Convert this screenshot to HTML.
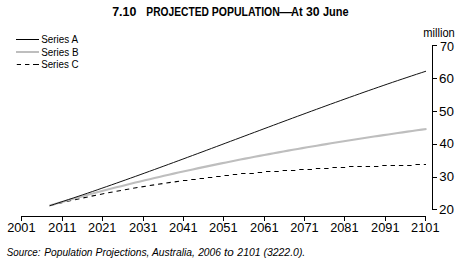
<!DOCTYPE html>
<html><head><meta charset="utf-8"><style>
html,body{margin:0;padding:0;background:#fff;width:465px;height:264px;overflow:hidden}
svg{display:block}
text{font-family:"Liberation Sans",sans-serif;fill:#000}
</style></head><body>
<svg width="465" height="264" viewBox="0 0 465 264">
<rect width="465" height="264" fill="#fff"/>
<text id="t0" x="112.20" y="15.80" font-size="12.5" font-weight="bold" textLength="24.16" lengthAdjust="spacingAndGlyphs">7.10</text>
<text id="t1" x="146.35" y="15.80" font-size="12.5" font-weight="bold" textLength="62.50" lengthAdjust="spacingAndGlyphs">PROJECTED</text>
<text id="t2" x="211.75" y="15.80" font-size="12.5" font-weight="bold" textLength="68.06" lengthAdjust="spacingAndGlyphs">POPULATION</text>
<text id="t3" x="279.30" y="15.80" font-size="12.5" font-weight="bold" textLength="12.85" lengthAdjust="spacingAndGlyphs">—</text>
<text id="t4" x="290.95" y="15.80" font-size="12.5" font-weight="bold" textLength="11.64" lengthAdjust="spacingAndGlyphs">At</text>
<text id="t5" x="306.05" y="15.80" font-size="12.5" font-weight="bold" textLength="13.63" lengthAdjust="spacingAndGlyphs">30</text>
<text id="t6" x="322.90" y="15.80" font-size="12.5" font-weight="bold" textLength="25.64" lengthAdjust="spacingAndGlyphs">June</text>
<text id="la" x="41.15" y="42.80" font-size="10" textLength="36.84" lengthAdjust="spacingAndGlyphs">Series A</text>
<text id="lb" x="41.15" y="55.50" font-size="10" textLength="37.35" lengthAdjust="spacingAndGlyphs">Series B</text>
<text id="lc" x="41.15" y="68.00" font-size="10" textLength="37.55" lengthAdjust="spacingAndGlyphs">Series C</text>
<text id="mil" x="423.30" y="36.90" font-size="12" textLength="31.47" lengthAdjust="spacingAndGlyphs">million</text>
<text id="s0" x="6.75" y="256.00" font-size="10.3" font-style="italic" textLength="33.79" lengthAdjust="spacingAndGlyphs">Source:</text>
<text id="s1" x="44.25" y="256.00" font-size="10.3" font-style="italic" textLength="48.25" lengthAdjust="spacingAndGlyphs">Population</text>
<text id="s2" x="95.60" y="256.00" font-size="10.3" font-style="italic" textLength="53.82" lengthAdjust="spacingAndGlyphs">Projections,</text>
<text id="s3" x="152.00" y="256.00" font-size="10.3" font-style="italic" textLength="42.94" lengthAdjust="spacingAndGlyphs">Australia,</text>
<text id="s4" x="198.15" y="256.00" font-size="10.3" font-style="italic" textLength="22.86" lengthAdjust="spacingAndGlyphs">2006</text>
<text id="s5" x="224.00" y="256.00" font-size="10.3" font-style="italic" textLength="9.73" lengthAdjust="spacingAndGlyphs">to</text>
<text id="s6" x="237.35" y="256.00" font-size="10.3" font-style="italic" textLength="23.16" lengthAdjust="spacingAndGlyphs">2101</text>
<text id="s7" x="263.45" y="256.00" font-size="10.3" font-style="italic" textLength="41.83" lengthAdjust="spacingAndGlyphs">(3222.0).</text>
<text id="x2001" x="7.15" y="231.90" font-size="12" textLength="28.40" lengthAdjust="spacingAndGlyphs">2001</text>
<text id="x2011" x="48.12" y="231.90" font-size="12" textLength="28.40" lengthAdjust="spacingAndGlyphs">2011</text>
<text id="x2021" x="88.09" y="231.90" font-size="12" textLength="28.40" lengthAdjust="spacingAndGlyphs">2021</text>
<text id="x2031" x="129.06" y="231.90" font-size="12" textLength="28.66" lengthAdjust="spacingAndGlyphs">2031</text>
<text id="x2041" x="169.03" y="231.90" font-size="12" textLength="28.66" lengthAdjust="spacingAndGlyphs">2041</text>
<text id="x2051" x="209.00" y="231.90" font-size="12" textLength="28.66" lengthAdjust="spacingAndGlyphs">2051</text>
<text id="x2061" x="249.97" y="231.90" font-size="12" textLength="28.66" lengthAdjust="spacingAndGlyphs">2061</text>
<text id="x2071" x="290.19" y="231.90" font-size="12" textLength="28.40" lengthAdjust="spacingAndGlyphs">2071</text>
<text id="x2081" x="330.16" y="231.90" font-size="12" textLength="28.40" lengthAdjust="spacingAndGlyphs">2081</text>
<text id="x2091" x="371.13" y="231.90" font-size="12" textLength="28.40" lengthAdjust="spacingAndGlyphs">2091</text>
<text id="x2101" x="411.10" y="231.90" font-size="12" textLength="28.40" lengthAdjust="spacingAndGlyphs">2101</text>
<text id="y70" x="440.00" y="51.00" font-size="12.4" textLength="14.00" lengthAdjust="spacingAndGlyphs">70</text>
<text id="y60" x="439.10" y="83.00" font-size="12.4" textLength="14.92" lengthAdjust="spacingAndGlyphs">60</text>
<text id="y50" x="439.10" y="116.00" font-size="12.4" textLength="14.92" lengthAdjust="spacingAndGlyphs">50</text>
<text id="y40" x="439.60" y="147.90" font-size="12.4" textLength="14.39" lengthAdjust="spacingAndGlyphs">40</text>
<text id="y30" x="439.35" y="180.90" font-size="12.4" textLength="14.65" lengthAdjust="spacingAndGlyphs">30</text>
<text id="y20" x="439.10" y="214.00" font-size="12.4" textLength="14.92" lengthAdjust="spacingAndGlyphs">20</text>
<line x1="16" y1="39.5" x2="39" y2="39.5" stroke="#000"/>
<line x1="16" y1="52" x2="39" y2="52" stroke="#bebebe" stroke-width="2"/>
<g stroke="#000"><line x1="16.8" y1="64.5" x2="21" y2="64.5"/><line x1="25" y1="64.5" x2="29.4" y2="64.5"/><line x1="33" y1="64.5" x2="39" y2="64.5"/></g>
<g stroke="#000" stroke-width="1" fill="none">
<line x1="432.5" y1="45" x2="432.5" y2="210"/>
<line x1="432" y1="45.50" x2="437" y2="45.50"/><line x1="432" y1="78.50" x2="437" y2="78.50"/><line x1="432" y1="111.50" x2="437" y2="111.50"/><line x1="432" y1="144.50" x2="437" y2="144.50"/><line x1="432" y1="177.50" x2="437" y2="177.50"/><line x1="432" y1="209.50" x2="437" y2="209.50"/>
<line x1="21" y1="216.5" x2="426" y2="216.5"/>
<line x1="21.50" y1="216" x2="21.50" y2="221"/><line x1="62.50" y1="216" x2="62.50" y2="221"/><line x1="102.50" y1="216" x2="102.50" y2="221"/><line x1="143.50" y1="216" x2="143.50" y2="221"/><line x1="183.50" y1="216" x2="183.50" y2="221"/><line x1="223.50" y1="216" x2="223.50" y2="221"/><line x1="264.50" y1="216" x2="264.50" y2="221"/><line x1="304.50" y1="216" x2="304.50" y2="221"/><line x1="344.50" y1="216" x2="344.50" y2="221"/><line x1="385.50" y1="216" x2="385.50" y2="221"/><line x1="425.50" y1="216" x2="425.50" y2="221"/>
</g>
<g fill="none">
<path d="M50.09 205.49 L54.48 204.42 M58.39 203.48 L62.79 202.44 M66.69 201.54 L71.09 200.54 M75.00 199.66 L79.40 198.70 M83.31 197.85 L87.71 196.92 M91.61 196.10 L96.01 195.20 M99.91 194.42 L104.31 193.55 M108.22 192.80 L112.62 191.96 M116.53 191.23 L120.93 190.43 M124.83 189.73 L129.23 188.95 M133.13 188.28 L137.53 187.54 M141.44 186.89 L145.84 186.17 M149.75 185.55 L154.15 184.87 M158.05 184.27 L162.45 183.61 M166.35 183.04 L170.75 182.41 M174.66 181.87 L179.06 181.26 M182.97 180.50 L187.37 180.50 M191.27 179.50 L195.67 179.50 M199.57 178.50 L203.97 178.50 M207.88 177.50 L212.28 177.50 M216.19 176.50 L220.59 176.50 M224.49 175.50 L228.89 175.50 M232.79 174.50 L237.19 174.50 M241.10 173.50 L245.50 173.50 M249.41 173.50 L253.81 173.50 M257.71 172.50 L262.11 172.50 M266.01 171.50 L270.41 171.50 M274.32 171.50 L278.72 171.50 M282.62 170.50 L287.02 170.50 M290.93 170.50 L295.33 170.50 M299.24 169.50 L303.63 169.50 M307.54 169.50 L311.94 169.50 M315.85 168.50 L320.25 168.50 M324.15 168.50 L328.55 168.50 M332.45 167.50 L336.85 167.50 M340.76 167.50 L345.16 167.50 M349.06 166.50 L353.46 166.50 M357.37 166.50 L361.77 166.50 M365.68 166.50 L370.07 166.50 M373.98 166.50 L378.38 166.50 M382.28 165.50 L386.68 165.50 M390.59 165.50 L394.99 165.50 M398.89 165.50 L403.29 165.50 M407.20 165.50 L411.60 165.50 M415.50 164.50 L419.90 164.50 M423.81 164.50 L426.00 164.50" stroke="#000" stroke-width="1.1"/>
<path d="M49.50 205.58 L54.27 204.19 L59.04 202.82 L63.82 201.46 L68.59 200.11 L73.36 198.78 L78.13 197.46 L82.91 196.15 L87.68 194.86 L92.45 193.57 L97.22 192.31 L101.99 191.05 L106.77 189.80 L111.54 188.57 L116.31 187.35 L121.08 186.15 L125.85 184.95 L130.63 183.77 L135.40 182.59 L140.17 181.43 L144.94 180.28 L149.72 179.15 L154.49 178.02 L159.26 176.91 L164.03 175.80 L168.80 174.71 L173.58 173.63 L178.35 172.56 L183.12 171.50 L187.89 170.45 L192.66 169.41 L197.44 168.38 L202.21 167.36 L206.98 166.35 L211.75 165.35 L216.53 164.36 L221.30 163.38 L226.07 162.41 L230.84 161.45 L235.61 160.50 L240.39 159.56 L245.16 158.63 L249.93 157.71 L254.70 156.79 L259.47 155.89 L264.25 154.99 L269.02 154.11 L273.79 153.23 L278.56 152.36 L283.34 151.49 L288.11 150.64 L292.88 149.79 L297.65 148.96 L302.42 148.13 L307.20 147.31 L311.97 146.49 L316.74 145.68 L321.51 144.89 L326.28 144.09 L331.06 143.31 L335.83 142.53 L340.60 141.76 L345.37 141.00 L350.15 140.24 L354.92 139.49 L359.69 138.75 L364.46 138.01 L369.23 137.28 L374.01 136.56 L378.78 135.84 L383.55 135.13 L388.32 134.42 L393.09 133.72 L397.87 133.02 L402.64 132.34 L407.41 131.65 L412.18 130.97 L416.96 130.30 L421.73 129.63 L426.50 128.97" stroke="#bebebe" stroke-width="2.1"/>
<path d="M49.50 205.80 L54.27 204.26 L59.03 202.71 L63.80 201.14 L68.56 199.57 L73.33 197.98 L78.09 196.38 L82.86 194.77 L87.63 193.15 L92.39 191.52 L97.16 189.88 L101.92 188.23 L106.69 186.57 L111.46 184.90 L116.22 183.23 L120.99 181.54 L125.75 179.85 L130.52 178.15 L135.28 176.44 L140.05 174.73 L144.82 173.01 L149.58 171.28 L154.35 169.55 L159.11 167.81 L163.88 166.07 L168.65 164.32 L173.41 162.57 L178.18 160.81 L182.94 159.05 L187.71 157.28 L192.47 155.51 L197.24 153.74 L202.01 151.97 L206.77 150.19 L211.54 148.41 L216.30 146.63 L221.07 144.85 L225.84 143.06 L230.60 141.28 L235.37 139.49 L240.13 137.71 L244.90 135.92 L249.66 134.13 L254.43 132.35 L259.20 130.57 L263.96 128.78 L268.73 127.00 L273.49 125.22 L278.26 123.45 L283.03 121.67 L287.79 119.90 L292.56 118.13 L297.32 116.37 L302.09 114.61 L306.85 112.85 L311.62 111.10 L316.39 109.35 L321.15 107.61 L325.92 105.87 L330.68 104.14 L335.45 102.41 L340.22 100.69 L344.98 98.98 L349.75 97.28 L354.51 95.58 L359.28 93.89 L364.04 92.20 L368.81 90.53 L373.58 88.86 L378.34 87.21 L383.11 85.56 L387.87 83.92 L392.64 82.29 L397.41 80.67 L402.17 79.07 L406.94 77.47 L411.70 75.88 L416.47 74.31 L421.23 72.74 L426.00 71.19" stroke="#111" stroke-width="1"/>
</g>
</svg>
</body></html>
